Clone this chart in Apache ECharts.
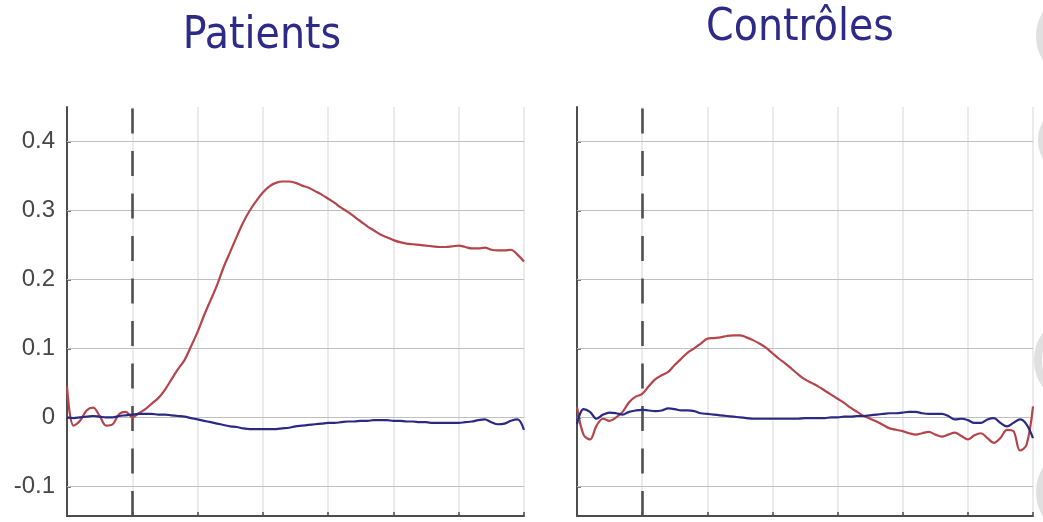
<!DOCTYPE html>
<html>
<head>
<meta charset="utf-8">
<script src="https://cdn.jsdelivr.net/npm/echarts@6/dist/echarts.min.js"></script>
<style>
  html, body { margin: 0; padding: 0; background: #ffffff; }
  #chart { width: 1043px; height: 522px; }
</style>
</head>
<body>
<div id="chart"></div>
<script>
// Panel titles
const panelTitles = ['Patients', 'Contrôles'];

// Time base (s): samples every 0.1 s from -1 to 6, stimulus at 0
const tStart = -1;
const tStep = 0.1;
const stimulusOnset = 0;

// Axis ticks
const xTicks = [-1, 0, 1, 2, 3, 4, 5, 6];
const yTicks = [-0.1, 0, 0.1, 0.2, 0.3, 0.4];
const yTickLabels = ['-0.1', '0', '0.1', '0.2', '0.3', '0.4'];
const yLimits = [-0.143, 0.45];

// Patients: red and blue responses
const patientsRed = [
  0.045, -0.012, -0.005, 0.010, 0.014, 0.002, -0.012, -0.010, 0.005, 0.008,
  0.000, 0.006, 0.012, 0.020, 0.028, 0.040, 0.055, 0.070, 0.083, 0.103,
  0.124, 0.148, 0.170, 0.192, 0.218, 0.240, 0.262, 0.283, 0.300, 0.314,
  0.326, 0.335, 0.340, 0.342, 0.342, 0.340, 0.336, 0.333, 0.328, 0.323,
  0.317, 0.311, 0.304, 0.298, 0.291, 0.284, 0.277, 0.271, 0.265, 0.261,
  0.257, 0.254, 0.252, 0.251, 0.250, 0.249, 0.248, 0.247, 0.247, 0.248,
  0.249, 0.247, 0.245, 0.245, 0.246, 0.243, 0.242, 0.242, 0.243, 0.236, 0.226
];
const patientsBlue = [
  0.000, -0.001, 0.000, 0.001, 0.002, 0.001, 0.000, 0.000, 0.002, 0.003,
  0.004, 0.005, 0.005, 0.005, 0.004, 0.004, 0.003, 0.002, 0.001, -0.001,
  -0.003, -0.005, -0.007, -0.009, -0.011, -0.013, -0.014, -0.016, -0.017, -0.017,
  -0.017, -0.017, -0.017, -0.016, -0.015, -0.013, -0.012, -0.011, -0.010, -0.009,
  -0.008, -0.008, -0.007, -0.006, -0.006, -0.005, -0.005, -0.004, -0.004, -0.004,
  -0.005, -0.005, -0.006, -0.006, -0.007, -0.007, -0.008, -0.008, -0.008, -0.008,
  -0.008, -0.007, -0.006, -0.004, -0.003, -0.007, -0.010, -0.009, -0.005, -0.003, -0.018
];

// Controls: red and blue responses
const controlsRed = [
  0.015, -0.025, -0.032, -0.012, -0.002, -0.005, 0.000, 0.008, 0.022, 0.030,
  0.034, 0.045, 0.055, 0.061, 0.066, 0.076, 0.085, 0.094, 0.100, 0.107,
  0.114, 0.115, 0.116, 0.118, 0.119, 0.119, 0.116, 0.112, 0.107, 0.101,
  0.093, 0.085, 0.078, 0.070, 0.062, 0.055, 0.050, 0.045, 0.039, 0.033,
  0.027, 0.021, 0.014, 0.008, 0.002, -0.002, -0.006, -0.011, -0.016, -0.018,
  -0.020, -0.023, -0.025, -0.023, -0.021, -0.025, -0.028, -0.025, -0.022, -0.027,
  -0.032, -0.026, -0.023, -0.030, -0.037, -0.030, -0.018, -0.020, -0.048, -0.040, 0.016
];
const controlsBlue = [
  -0.010, 0.012, 0.008, -0.002, 0.004, 0.007, 0.006, 0.004, 0.008, 0.010,
  0.011, 0.010, 0.009, 0.010, 0.013, 0.012, 0.010, 0.010, 0.009, 0.006,
  0.005, 0.004, 0.003, 0.002, 0.001, 0.000, -0.001, -0.002, -0.002, -0.002,
  -0.002, -0.002, -0.002, -0.002, -0.002, -0.001, -0.001, -0.001, -0.001, 0.000,
  0.000, 0.001, 0.001, 0.002, 0.002, 0.003, 0.004, 0.005, 0.006, 0.006,
  0.007, 0.008, 0.008, 0.006, 0.005, 0.005, 0.005, 0.002, -0.003, -0.002,
  -0.004, -0.008, -0.008, -0.003, -0.001, -0.008, -0.013, -0.008, -0.003, -0.010, -0.030
];

const times = patientsRed.map((_, i) => +(tStart + i * tStep).toFixed(2));
const pair = (vals) => vals.map((v, i) => [times[i], v]);

const panels = [
  { title: panelTitles[0], red: patientsRed, blue: patientsBlue, showLabels: true,
    grid: { left: 67, top: 107, width: 457, height: 409 }, titleX: 262, titleY: 37 },
  { title: panelTitles[1], red: controlsRed, blue: controlsBlue, showLabels: false,
    grid: { left: 577, top: 107, width: 456, height: 409 }, titleX: 800, titleY: 29 }
];

const axisColor = '#4d4d4d';
const RED = '#b4454a';
const BLUE = '#2b2a82';

const option = {
  animation: false,
  backgroundColor: '#ffffff',
  grid: panels.map(p => p.grid),
  xAxis: panels.map((p, i) => ({
    type: 'value', gridIndex: i,
    min: xTicks[0], max: xTicks[xTicks.length - 1], interval: 1,
    axisLine: { show: true, onZero: false, lineStyle: { color: axisColor, width: 2 } },
    axisTick: { show: true, inside: true, length: 4, lineStyle: { color: axisColor, width: 1.5 } },
    axisLabel: { show: false },
    splitLine: { show: true, lineStyle: { color: '#e4e4e4', width: 1.5 } }
  })),
  yAxis: panels.map((p, i) => ({
    type: 'value', gridIndex: i,
    min: yLimits[0], max: yLimits[1],
    axisLine: { show: true, onZero: false, lineStyle: { color: axisColor, width: 2 } },
    axisTick: { show: true, inside: true, length: 4, customValues: yTicks,
                lineStyle: { color: axisColor, width: 1.5 } },
    axisLabel: {
      show: p.showLabels, customValues: yTicks, margin: 12,
      color: '#474747', fontSize: 24,
      fontFamily: '"Liberation Sans Narrow", "Liberation Sans", Arial, sans-serif',
      formatter: (v) => {
        const k = yTicks.findIndex(t => Math.abs(t - v) < 1e-9);
        return k >= 0 ? yTickLabels[k] : '';
      }
    },
    splitLine: { show: false }
  })),
  series: panels.flatMap((p, i) => [
    {
      // reference lines: horizontal grid and the stimulus onset
      type: 'line', xAxisIndex: i, yAxisIndex: i, z: 1,
      data: [[times[0], 0]], showSymbol: false, silent: true,
      lineStyle: { width: 0, opacity: 0 },
      markLine: {
        silent: true, symbol: 'none', z: 1, animation: false,
        label: { show: false },
        emphasis: { disabled: true },
        data: [
          ...yTicks.map(v => ({ yAxis: v, lineStyle: { color: '#c0c0c0', width: 1, type: 'solid' } })),
          { xAxis: stimulusOnset, lineStyle: { color: '#505050', width: 2.6, type: [25, 17.5] } }
        ]
      }
    },
    {
      name: 'red', type: 'line', xAxisIndex: i, yAxisIndex: i, z: 3,
      data: pair(p.red), showSymbol: false, smooth: 0.35,
      lineStyle: { color: RED, width: 2.2 }
    },
    {
      name: 'blue', type: 'line', xAxisIndex: i, yAxisIndex: i, z: 4,
      data: pair(p.blue), showSymbol: false, smooth: 0.35,
      lineStyle: { color: BLUE, width: 2.2 }
    }
  ]),
  graphic: [
    ...panels.map(p => ({
      type: 'text', x: p.titleX, y: p.titleY, silent: true,
      style: {
        text: p.title, align: 'center', verticalAlign: 'middle',
        font: '44px "DejaVu Sans Condensed", "DejaVu Sans", sans-serif',
        fill: '#2e2a87'
      }
    })),
    // faint ornaments along the right edge
    ...[[1080, 36, 40], [1076, 140, 34], [1080, 360, 42], [1082, 492, 42]].map(([cx, cy, r]) => ({
      type: 'circle', silent: true,
      shape: { cx, cy, r },
      style: { fill: 'none', stroke: '#e0e0e0', lineWidth: 8 }
    }))
  ]
};

const chart = echarts.init(document.getElementById('chart'), null, { renderer: 'canvas' });
chart.setOption(option);
</script>
</body>
</html>
